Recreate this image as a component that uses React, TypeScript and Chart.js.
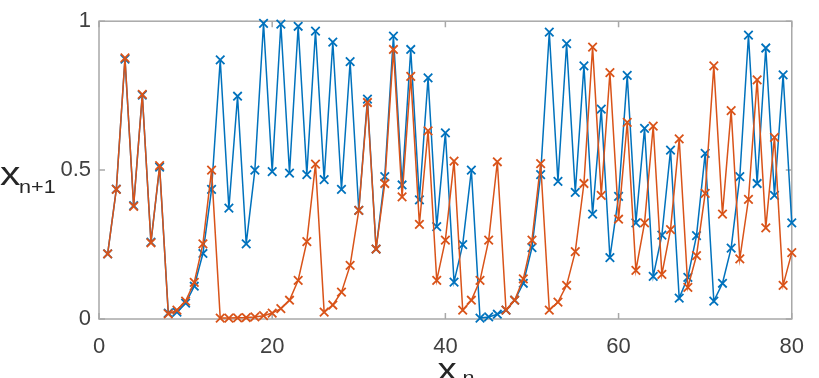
import React, { useEffect, useRef } from "react";
import { Chart, registerables } from "chart.js";

Chart.register(...registerables);

const steps = [
  1, 2, 3, 4, 5, 6, 7, 8, 9, 10, 11, 12, 13, 14, 15, 16, 17, 18, 19, 20,
  21, 22, 23, 24, 25, 26, 27, 28, 29, 30, 31, 32, 33, 34, 35, 36, 37, 38, 39, 40,
  41, 42, 43, 44, 45, 46, 47, 48, 49, 50, 51, 52, 53, 54, 55, 56, 57, 58, 59, 60,
  61, 62, 63, 64, 65, 66, 67, 68, 69, 70, 71, 72, 73, 74, 75, 76, 77, 78, 79, 80,
];

const blueSeries = [
  0.219, 0.436, 0.873, 0.381, 0.752, 0.258, 0.51, 0.02, 0.023, 0.053,
  0.11, 0.22, 0.435, 0.87, 0.372, 0.748, 0.252, 0.5, 0.993, 0.495,
  0.99, 0.49, 0.983, 0.485, 0.967, 0.468, 0.93, 0.435, 0.864, 0.365,
  0.738, 0.235, 0.478, 0.95, 0.45, 0.905, 0.4, 0.81, 0.31, 0.625,
  0.124, 0.25, 0.5, 0.003, 0.007, 0.016, 0.03, 0.063, 0.12, 0.24,
  0.485, 0.963, 0.462, 0.925, 0.425, 0.85, 0.352, 0.705, 0.206, 0.412,
  0.818, 0.323, 0.64, 0.143, 0.282, 0.567, 0.07, 0.14, 0.28, 0.556,
  0.06, 0.12, 0.238, 0.478, 0.953, 0.455, 0.91, 0.415, 0.82, 0.323,
];

const orangeSeries = [
  0.219, 0.435, 0.877, 0.378, 0.754, 0.256, 0.515, 0.017, 0.03, 0.06,
  0.123, 0.252, 0.5, 0.003, 0.003, 0.004, 0.005, 0.007, 0.011, 0.02,
  0.035, 0.063, 0.13, 0.26, 0.52, 0.023, 0.047, 0.09, 0.18, 0.365,
  0.727, 0.235, 0.455, 0.905, 0.41, 0.815, 0.318, 0.632, 0.13, 0.265,
  0.53, 0.03, 0.063, 0.13, 0.265, 0.528, 0.03, 0.063, 0.135, 0.265,
  0.522, 0.03, 0.057, 0.113, 0.226, 0.455, 0.913, 0.415, 0.827, 0.335,
  0.66, 0.163, 0.323, 0.648, 0.15, 0.3, 0.605, 0.106, 0.213, 0.422,
  0.85, 0.352, 0.7, 0.202, 0.402, 0.803, 0.306, 0.61, 0.113, 0.223,
];

const xTickValues = [0, 20, 40, 60, 80];
const yTickValues = [0, 0.5, 1];
const yTickLabels = ["0", "0.5", "1"];

const BLUE = "#0072BD";
const ORANGE = "#D95319";
const FONT = "'Liberation Sans', Arial, sans-serif";

const framePlugin = {
  id: "matlabFrame",
  beforeDatasetsDraw(chart: any) {
    const { ctx, chartArea: a, scales } = chart;
    ctx.save();
    ctx.strokeStyle = "#a8a8a8";
    ctx.lineWidth = 1.5;
    ctx.strokeRect(a.left, a.top, a.right - a.left, a.bottom - a.top);
    ctx.beginPath();
    for (const v of xTickValues) {
      const px = scales.x.getPixelForValue(v);
      ctx.moveTo(px, a.bottom);
      ctx.lineTo(px, a.bottom - 6);
      ctx.moveTo(px, a.top);
      ctx.lineTo(px, a.top + 6);
    }
    for (const v of yTickValues) {
      const py = scales.y.getPixelForValue(v);
      ctx.moveTo(a.left, py);
      ctx.lineTo(a.left + 6, py);
      ctx.moveTo(a.right, py);
      ctx.lineTo(a.right - 6, py);
    }
    ctx.stroke();
    ctx.restore();
  },
  afterDraw(chart: any) {
    const { ctx, chartArea: a } = chart;
    ctx.save();
    ctx.fillStyle = "#262626";
    ctx.textBaseline = "alphabetic";
    ctx.textAlign = "left";
    ctx.save();
    ctx.scale(1.2, 1);
    ctx.font = `34px ${FONT}`;
    ctx.fillText("x", 0, 185);
    ctx.font = `18px ${FONT}`;
    ctx.fillText("n+1", 19 / 1.2, 193);
    ctx.restore();
    const cx = (a.left + a.right) / 2;
    ctx.save();
    ctx.scale(1.2, 1);
    ctx.font = `32px ${FONT}`;
    ctx.fillText("x", (cx - 8) / 1.2, 380);
    ctx.font = `18px ${FONT}`;
    ctx.fillText("n", (cx + 17) / 1.2, 384);
    ctx.restore();
    ctx.restore();
  },
};

export default function App() {
  const ref = useRef<HTMLCanvasElement | null>(null);

  useEffect(() => {
    if (!ref.current) return;
    const common = {
      borderWidth: 1.5,
      pointStyle: "crossRot",
      pointRadius: 6,
      pointBorderWidth: 1.8,
      tension: 0,
      clip: false as any,
    };
    const chart = new Chart(ref.current, {
      type: "line",
      data: {
        datasets: [
          {
            ...common,
            label: "orange",
            data: steps.map((n, i) => ({ x: n, y: orangeSeries[i] })),
            borderColor: ORANGE,
            backgroundColor: ORANGE,
            pointBorderColor: ORANGE,
          } as any,
          {
            ...common,
            label: "blue",
            data: steps.map((n, i) => ({ x: n, y: blueSeries[i] })),
            borderColor: BLUE,
            backgroundColor: BLUE,
            pointBorderColor: BLUE,
          } as any,
        ],
      },
      options: {
        responsive: false,
        animation: false,
        layout: { padding: { top: 18, right: 11, left: 0, bottom: 0 } },
        plugins: {
          legend: { display: false },
          tooltip: { enabled: false },
        },
        scales: {
          x: {
            type: "linear",
            min: 0,
            max: 80,
            border: { display: false },
            grid: { display: false, drawTicks: false },
            afterFit: (s: any) => {
              s.height = 59;
            },
            afterBuildTicks: (s: any) => {
              s.ticks = xTickValues.map((v) => ({ value: v }));
            },
            ticks: {
              padding: 15,
              color: "#404040",
              font: { family: FONT, size: 22 },
              maxRotation: 0,
            },
          },
          y: {
            type: "linear",
            min: 0,
            max: 1,
            border: { display: false },
            grid: { display: false, drawTicks: false },
            afterFit: (s: any) => {
              s.width = 99;
            },
            afterBuildTicks: (s: any) => {
              s.ticks = yTickValues.map((v) => ({ value: v }));
            },
            ticks: {
              padding: 8,
              color: "#404040",
              font: { family: FONT, size: 22 },
              callback: (v: any) => yTickLabels[yTickValues.indexOf(Number(v))] ?? String(v),
            },
          },
        },
      },
      plugins: [framePlugin],
    });
    return () => chart.destroy();
  }, []);

  return (
    <div style={{ position: "fixed", left: 0, top: 0, width: 819, height: 378, background: "#fff" }}>
      <canvas ref={ref} width={819} height={378} style={{ display: "block", width: 819, height: 378 }} />
    </div>
  );
}
